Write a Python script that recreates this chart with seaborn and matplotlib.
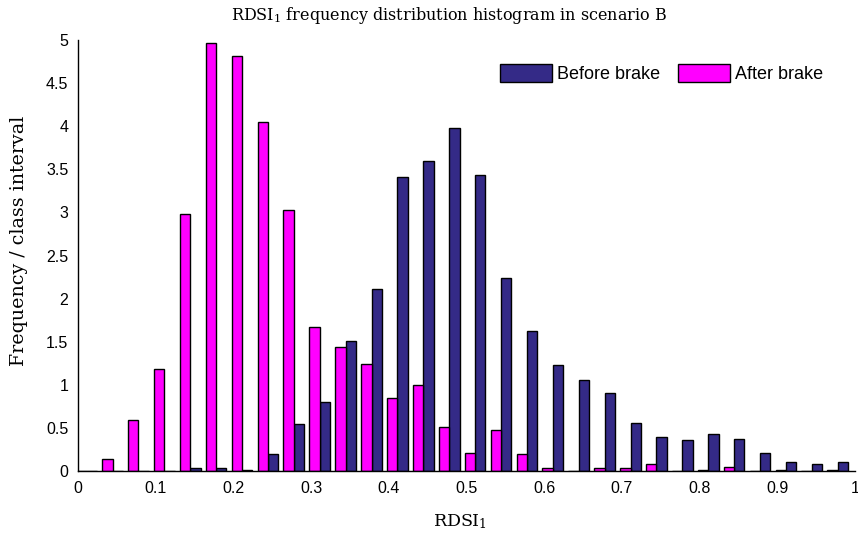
import numpy as np
import pandas as pd
import matplotlib
matplotlib.use("Agg")
import matplotlib.pyplot as plt
from matplotlib.patches import Patch
import seaborn as sns

# Class intervals of RDSI_1 (30 classes of width 1/30)
bin_width = 1.0 / 30
bin_start = -0.00556
bin_centers = [bin_start + bin_width * (k + 0.5) for k in range(30)]

# Frequency / class interval before braking
before_brake = [0, 0, 0, 0, 0.03, 0.03, 0.01, 0.20, 0.54, 0.80,
                1.51, 2.11, 3.41, 3.60, 3.98, 3.43, 2.24, 1.62, 1.23, 1.05,
                0.90, 0.56, 0.39, 0.36, 0.425, 0.375, 0.21, 0.10, 0.08, 0.11]

# Frequency / class interval after braking
after_brake = [0, 0.135, 0.59, 1.18, 2.98, 4.97, 4.81, 4.05, 3.03, 1.67,
               1.44, 1.24, 0.85, 1.00, 0.51, 0.21, 0.475, 0.20, 0.03, 0.0,
               0.03, 0.03, 0.08, 0.0, 0.01, 0.05, 0.0, 0.01, 0.0, 0.01]

x_ticks = [0, 0.1, 0.2, 0.3, 0.4, 0.5, 0.6, 0.7, 0.8, 0.9, 1]
x_tick_labels = ["0", "0.1", "0.2", "0.3", "0.4", "0.5", "0.6", "0.7", "0.8", "0.9", "1"]
y_ticks = [0, 0.5, 1, 1.5, 2, 2.5, 3, 3.5, 4, 4.5, 5]
y_tick_labels = ["0", "0.5", "1", "1.5", "2", "2.5", "3", "3.5", "4", "4.5", "5"]

series_names = ["Before brake", "After brake"]
colors = {"Before brake": "#342a87", "After brake": "#ff00ff"}

df = pd.DataFrame({
    "RDSI": bin_centers * 2,
    "value": before_brake + after_brake,
    "series": [series_names[0]] * 30 + [series_names[1]] * 30,
})

sns.set_style("white")
plt.rcParams["font.family"] = ["Liberation Sans", "DejaVu Sans"]
plt.rcParams["text.color"] = "black"
plt.rcParams["axes.labelcolor"] = "black"
plt.rcParams["mathtext.fontset"] = "custom"
plt.rcParams["mathtext.rm"] = "DejaVu Serif"
plt.rcParams["mathtext.it"] = "DejaVu Serif:italic"

fig = plt.figure(figsize=(8.58, 5.37), dpi=100)
ax = fig.add_axes([78 / 858, 1 - 471 / 537, 777 / 858, 431 / 537])

edges = [bin_start + bin_width * k for k in range(31)]
sns.histplot(
    data=df, x="RDSI", weights="value", hue="series",
    hue_order=["After brake", "Before brake"], palette=colors,
    bins=edges, multiple="dodge", shrink=0.8, alpha=1,
    edgecolor="black", linewidth=1.0, legend=False, ax=ax,
)

ax.set_xlim(0, 1)
ax.set_ylim(0, 5)
ax.set_xticks(x_ticks)
ax.set_xticklabels(x_tick_labels)
ax.set_yticks(y_ticks)
ax.set_yticklabels(y_tick_labels)
ax.tick_params(axis="both", direction="in", length=5, width=1, color="black",
               labelsize=11.5, labelcolor="black", pad=7)
for side in ["top", "right"]:
    ax.spines[side].set_visible(False)
for side in ["left", "bottom"]:
    ax.spines[side].set_color("black")
    ax.spines[side].set_linewidth(1)

serif = ["DejaVu Serif"]
ax.set_xlabel(r"RDSI$_1$", family=serif, fontsize=12.5, color="black")
ax.xaxis.set_label_coords(0.492, -0.096)
ax.set_ylabel("Frequency / class interval", family=serif, fontsize=13.7, color="black")
ax.yaxis.set_label_coords(-0.064, 0.534)
ax.set_title(r"RDSI$_1$ frequency distribution histogram in scenario B",
             family=serif, fontsize=11.5, color="black", x=0.478, y=1.028)

handles = [Patch(facecolor=colors[n], edgecolor="black", linewidth=1) for n in series_names]
ax.legend(handles, series_names, loc="center right", bbox_to_anchor=(0.959, 0.922),
          ncol=2, frameon=False, fontsize=13, handlelength=2.85, handleheight=1.1,
          columnspacing=1.0, handletextpad=0.3, borderpad=0, borderaxespad=0)

fig.savefig("out.png", dpi=100)
